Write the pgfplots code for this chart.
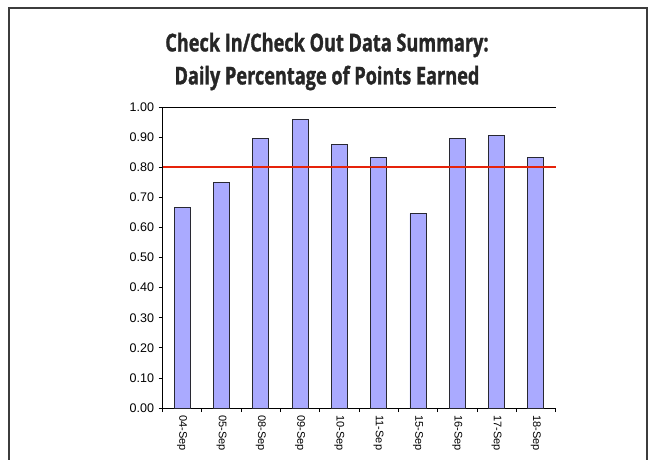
\documentclass[border=0pt]{standalone}
\usepackage{pgfplots}
\pgfplotsset{compat=1.18}
\usepackage{fontspec}
\setmainfont{Liberation Sans}
\newfontfamily\titlefont[FakeStretch=0.74,FakeBold=1.2]{Open Sans Bold}
\definecolor{barfill}{RGB}{170,170,255}
\definecolor{barline}{RGB}{40,40,50}
\definecolor{goal}{RGB}{230,35,10}
\definecolor{framec}{RGB}{60,60,60}
\begin{document}
\begin{tikzpicture}
\useasboundingbox (0pt,0pt) rectangle (657pt,-459pt);
\draw[framec, line width=1.3pt] (9pt,-462pt) -- (9pt,-8pt) -- (647pt,-8pt) -- (647pt,-462pt);
\node[font=\titlefont\fontsize{24.5}{28}\selectfont, text=black!85] at (327pt,-45pt) {Check In/Check Out Data Summary:};
\node[font=\titlefont\fontsize{24.5}{28}\selectfont, text=black!85] at (327pt,-78pt) {Daily Percentage of Points Earned};
\begin{axis}[
  at={(162.5pt,-408pt)}, anchor=south west,
  scale only axis, width=393pt, height=301pt,
  xmin=-0.5, xmax=9.5, ymin=0, ymax=1,
  axis x line=box, axis y line=left,
  axis line style={black, line width=0.9pt, -},
  ytick={0,0.1,...,1.0},
  /pgf/number format/fixed, /pgf/number format/fixed zerofill, /pgf/number format/precision=2,
  /pgf/number format/assume math mode=true,
  yticklabel style={font=\fontsize{12.5}{14}\selectfont, xshift=-1pt},
  xtick={0,...,9},
  xticklabels={04-Sep,05-Sep,08-Sep,09-Sep,10-Sep,11-Sep,15-Sep,16-Sep,17-Sep,18-Sep},
  xticklabel style={rotate=-90, anchor=west, font=\fontsize{11}{13}\selectfont},
  major x tick style={draw=none},
  minor xtick={-0.5,0.5,...,9.5},
  xtick pos=bottom, ytick pos=left,
  tick align=outside,
  tick style={black, line width=0.8pt},
  major tick length=4pt, minor tick length=4pt,
  clip=false,
]
\addplot[ybar, bar width=16pt, fill=barfill, draw=barline, line width=0.8pt] coordinates {
 (0,0.667) (1,0.750) (2,0.897) (3,0.958) (4,0.875) (5,0.833) (6,0.646) (7,0.895) (8,0.905) (9,0.833)
};
\addplot[goal, line width=1.8pt] coordinates {(-0.5,0.8) (9.5,0.8)};
\end{axis}
\end{tikzpicture}
\end{document}
